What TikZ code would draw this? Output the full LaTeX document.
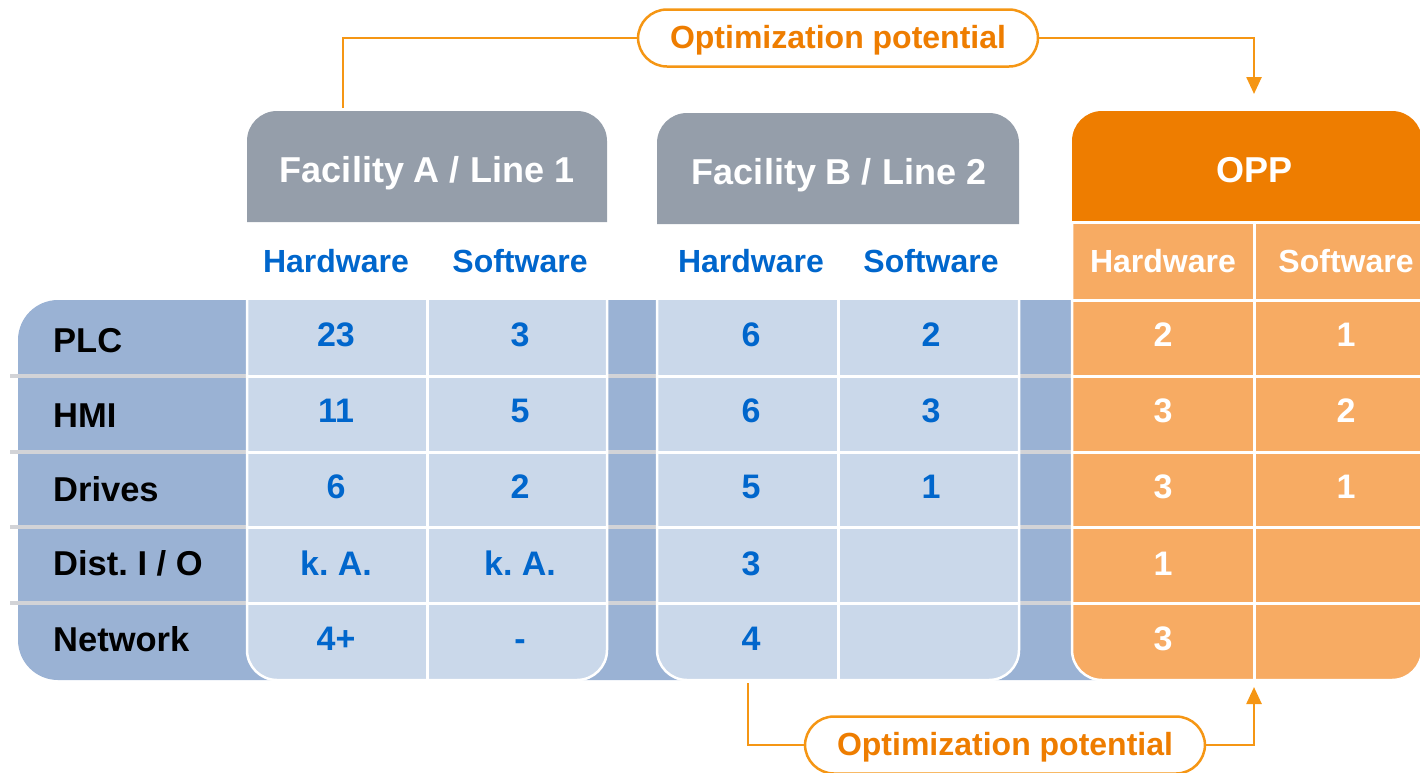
\documentclass[tikz,border=0pt]{standalone}
\usepackage{fontspec}
\setmainfont{Liberation Sans}
\usetikzlibrary{arrows.meta}
\definecolor{hdrgrey}{RGB}{149,158,170}
\definecolor{opporange}{RGB}{238,125,0}
\definecolor{opplight}{RGB}{247,171,99}
\definecolor{banddark}{RGB}{154,178,212}
\definecolor{celllight}{RGB}{202,216,234}
\definecolor{txtblue}{RGB}{0,102,204}
\definecolor{lineorange}{RGB}{245,150,20}
\definecolor{divgrey}{RGB}{210,211,215}
\begin{document}
\begin{tikzpicture}[x=1pt,y=-1pt,
  hdr/.style={text=white, font=\fontsize{36}{40}\selectfont\bfseries, anchor=base, inner sep=0pt},
  sub/.style={text=txtblue, font=\fontsize{32}{36}\selectfont\bfseries, anchor=base, inner sep=0pt},
  subw/.style={sub, text=white},
  num/.style={text=txtblue, font=\fontsize{34}{38}\selectfont\bfseries, anchor=base, inner sep=0pt},
  numw/.style={num, text=white},
  rowlbl/.style={text=black, font=\fontsize{34.5}{38}\selectfont\bfseries, anchor=base west, inner sep=0pt},
  optlbl/.style={draw=lineorange, line width=2.5pt, fill=white, rounded corners=29pt,
     minimum width=400pt, minimum height=57pt, inner sep=0pt, text height=21pt, text depth=0pt,
     text=opporange, font=\fontsize{32}{36}\selectfont\bfseries},
  conn/.style={lineorange, line width=2.5pt},
  wline/.style={white, line width=3pt},
  gline/.style={divgrey, line width=4pt},
  cellbox/.style={draw=white, line width=2.5pt, rounded corners=30pt}]
\useasboundingbox (0,0) rectangle (1420,772);
% dark band behind rows
\fill[banddark, rounded corners=40pt] (1150,300) -- (18,300) -- (18,680) -- (1150,680);
% grey row dividers
\foreach \yy in {376,452,527,603} \draw[gline] (10,\yy) -- (1072,\yy);
% Facility A data
\filldraw[cellbox, fill=celllight] (247,300) -- (247,680) -- (607,680) -- (607,300);
\foreach \yy in {376,452,527,603} \draw[wline] (247,\yy) -- (607,\yy);
\draw[wline] (427,300) -- (427,680);
% Facility B data
\filldraw[cellbox, fill=celllight] (657,300) -- (657,680) -- (1019,680) -- (1019,300);
\foreach \yy in {376,452,527,603} \draw[wline] (657,\yy) -- (1019,\yy);
\draw[wline] (838,300) -- (838,680);
% headers
\fill[hdrgrey, rounded corners=30pt] (247,222) -- (247,111) -- (607,111) -- (607,222);
\fill[hdrgrey, rounded corners=30pt] (657,224) -- (657,113) -- (1019,113) -- (1019,224);
% OPP
\filldraw[cellbox, fill=opplight] (1072,222) -- (1072,680) -- (1422,680) -- (1422,222);
\fill[opporange, rounded corners=30pt] (1072,222) -- (1072,111) -- (1422,111) -- (1422,222);
\draw[wline] (1072,222) -- (1422,222);
\foreach \yy in {300,376,452,527,603} \draw[wline] (1072,\yy) -- (1422,\yy);
\draw[wline] (1254,222) -- (1254,680);
% header texts
\node[hdr] (hA) at (427,182) {Facility A / Line 1};
\node[hdr] (hB) at (839,184) {Facility B / Line 2};
\node[hdr] (hO) at (1254,182) {OPP};
% sub headers
\node[sub] (sAh) at (336,272) {Hardware};
\node[sub] (sAs) at (520,272) {Software};
\node[sub] (sBh) at (751,272) {Hardware};
\node[sub] (sBs) at (931,272) {Software};
\node[subw] (sOh) at (1163,272) {Hardware};
\node[subw] (sOs) at (1346,272) {Software};
% row labels
\node[rowlbl] (r1) at (53,352) {PLC};
\node[rowlbl] (r2) at (53,427) {HMI};
\node[rowlbl] (r3) at (53,501) {Drives};
\node[rowlbl] (r4) at (53,575) {Dist.\ I / O};
\node[rowlbl] (r5) at (53,651) {Network};
% Facility A values
\node[num] (a11) at (336,346) {23};
\node[num] (a21) at (336,422) {11};
\node[num] (a31) at (336,498) {6};
\node[num] (a41) at (336,575) {k.\ A.};
\node[num] (a51) at (336,650) {4+};
\node[num] (a12) at (520,346) {3};
\node[num] (a22) at (520,422) {5};
\node[num] (a32) at (520,498) {2};
\node[num] (a42) at (520,575) {k.\ A.};
\node[num] (a52) at (520,650) {-};
% Facility B values
\node[num] (b11) at (751,346) {6};
\node[num] (b21) at (751,422) {6};
\node[num] (b31) at (751,498) {5};
\node[num] (b41) at (751,575) {3};
\node[num] (b51) at (751,650) {4};
\node[num] (b12) at (931,346) {2};
\node[num] (b22) at (931,422) {3};
\node[num] (b32) at (931,498) {1};
% OPP values
\node[numw] (o11) at (1163,346) {2};
\node[numw] (o21) at (1163,422) {3};
\node[numw] (o31) at (1163,498) {3};
\node[numw] (o41) at (1163,575) {1};
\node[numw] (o51) at (1163,650) {3};
\node[numw] (o12) at (1346,346) {1};
\node[numw] (o22) at (1346,422) {2};
\node[numw] (o32) at (1346,498) {1};
% connectors
\coordinate (tstart) at (343,108);
\coordinate (ttip) at (1254,94);
\coordinate (bstart) at (748,683);
\coordinate (btip) at (1254,687);
\node[optlbl] (ltop) at (838,38) {Optimization potential};
\node[optlbl] (lbot) at (1005,745) {Optimization potential};
\draw[conn] (tstart) |- (ltop.west);
\draw[conn, -{Triangle[width=15pt,length=17pt]}] (ltop.east) -| (ttip);
\draw[conn] (bstart) |- (lbot.west);
\draw[conn, -{Triangle[width=15pt,length=17pt]}] (lbot.east) -| (btip);
\end{tikzpicture}
\end{document}
